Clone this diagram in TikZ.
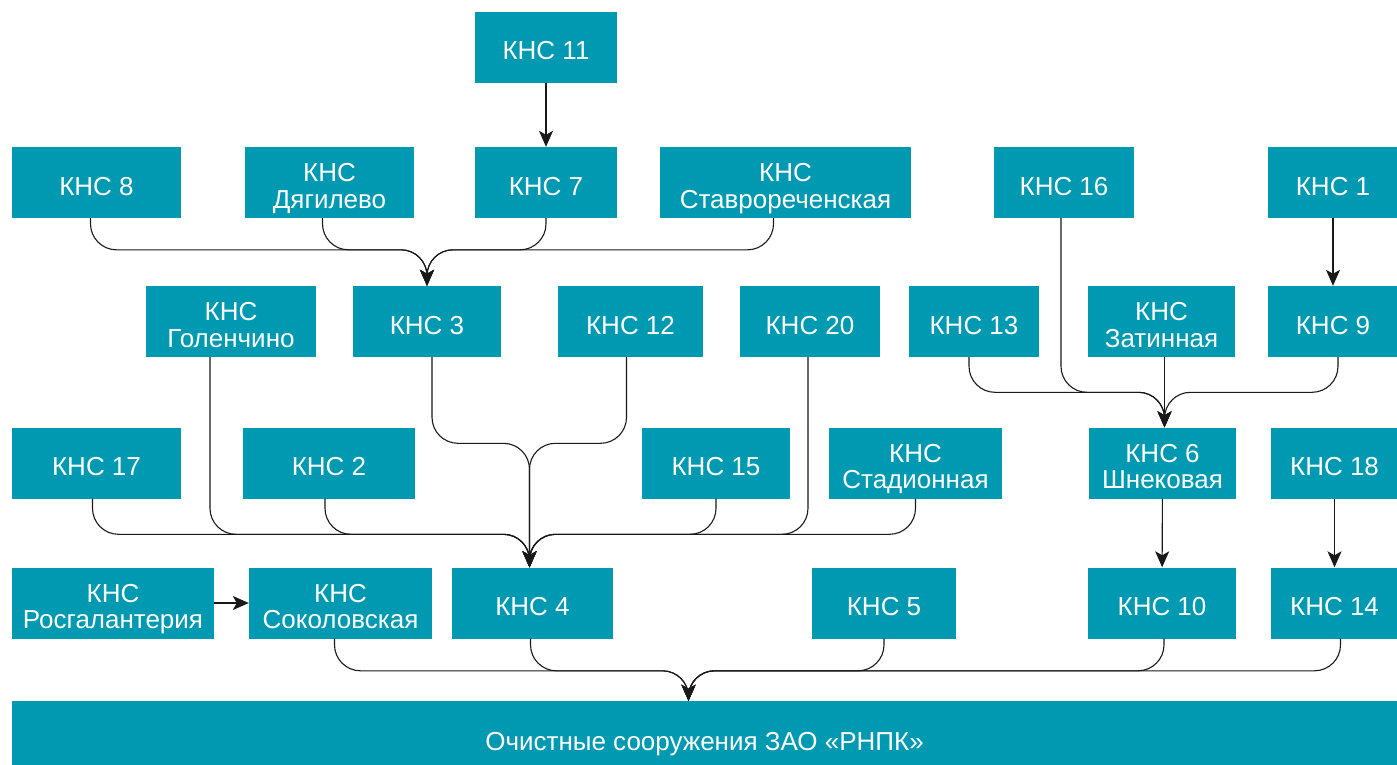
\documentclass[tikz,border=0pt]{standalone}
\usepackage{fontspec}
\setmainfont{Liberation Sans}
\usetikzlibrary{arrows.meta}
\definecolor{teal1}{RGB}{0,153,178}
\newcommand{\twoline}[2]{\begin{tabular}{@{}c@{}}\rule{0pt}{33pt}#1\\#2\end{tabular}}
\begin{document}
\begin{tikzpicture}[x=1pt,y=-1pt,
  base/.style={fill=teal1, text=white, inner sep=0pt, minimum height=71pt,
    font=\fontsize{26}{26.5}\selectfont},
  box/.style={base, execute at begin node={\rule{0pt}{25.5pt}}},
  box2/.style={base},
  conn/.style={draw=black!90, line width=1.1pt, rounded corners=26pt,
    -{Stealth[length=16pt,width=14pt,inset=4pt]}},
  straight/.style={draw=black!90, line width=1.1pt,
    -{Stealth[length=16pt,width=14pt,inset=4pt]}}]
\useasboundingbox (0,0) rectangle (1397,764);
% row 0
\node[box, minimum width=142pt] (k11) at (546,47) {КНС 11};
% row 1
\node[box, minimum width=169pt] (k8) at (96.5,182.5) {КНС 8};
\node[box2, minimum width=169pt] (dyag) at (329.5,182.5) {\twoline{КНС}{Дягилево}};
\node[box, minimum width=142pt] (k7) at (546,182.5) {КНС 7};
\node[box2, minimum width=251pt] (stav) at (785.5,182.5) {\twoline{КНС}{Ставрореченская}};
\node[box, minimum width=140pt] (k16) at (1064,182.5) {КНС 16};
\node[box, minimum width=130pt] (k1) at (1333,182.5) {КНС 1};
% row 2
\node[box2, minimum width=170pt] (gol) at (231,321.5) {\twoline{КНС}{Голенчино}};
\node[box, minimum width=148pt] (k3) at (427,321.5) {КНС 3};
\node[box, minimum width=145pt] (k12) at (630.5,321.5) {КНС 12};
\node[box, minimum width=140pt] (k20) at (810,321.5) {КНС 20};
\node[box, minimum width=130pt] (k13) at (974,321.5) {КНС 13};
\node[box2, minimum width=147pt] (zat) at (1161.5,321.5) {\twoline{КНС}{Затинная}};
\node[box, minimum width=130pt] (k9) at (1333,321.5) {КНС 9};
% row 3
\node[box, minimum width=169pt] (k17) at (96.5,463) {КНС 17};
\node[box, minimum width=172pt] (k2) at (329,463) {КНС 2};
\node[box, minimum width=148pt] (k15) at (716,463) {КНС 15};
\node[box2, minimum width=173pt] (stad) at (915.5,463) {\twoline{КНС}{Стадионная}};
\node[box2, minimum width=147pt] (k6) at (1162.5,463) {\twoline{КНС 6}{Шнековая}};
\node[box, minimum width=127pt] (k18) at (1334.5,463) {КНС 18};
% row 4
\node[box2, minimum width=202pt] (ros) at (113,603) {\twoline{КНС}{Росгалантерия}};
\node[box2, minimum width=183pt] (sok) at (340.5,603) {\twoline{КНС}{Соколовская}};
\node[box, minimum width=161pt] (k4) at (532.5,603) {КНС 4};
\node[box, minimum width=144pt] (k5) at (884,603) {КНС 5};
\node[box, minimum width=148pt] (k10) at (1162,603) {КНС 10};
\node[box, minimum width=127pt] (k14) at (1334.5,603) {КНС 14};
% bottom
\node[box, minimum width=1385pt, minimum height=78pt] (out) at (704.5,740) {Очистные сооружения ЗАО «РНПК»};
% bus coordinates
\path (k3.north) ++(0,-36) coordinate (b3);
\path (k6.north) ++(2,-35) coordinate (b6);
\path (k4.north) ++(-3,-33) coordinate (b4);
\path (k4.north) ++(-3,-124) coordinate (b4up);
\path (out.north) ++(-16,-30) coordinate (bo);
% straight arrows
\draw[straight] (k11) -- (k7);
\draw[straight] (k1) -- (k9);
\draw[straight] (k6) -- (k10);
\draw[straight] (k18) -- (k14);
\draw[straight] (ros) -- (sok);
% into KNS 3
\draw[conn] ([xshift=-6pt]k8.south) |- (b3) -- (k3.north);
\draw[conn] ([xshift=-7pt]dyag.south) |- (b3) -- (k3.north);
\draw[conn] (k7.south) |- (b3) -- (k3.north);
\draw[conn] ([xshift=-12pt]stav.south) |- (b3) -- (k3.north);
% into KNS 6
\draw[conn] ([xshift=-5pt]k13.south) |- (b6) -- (b6 |- k6.north);
\draw[conn] ([xshift=-3pt]k16.south) |- (b6) -- (b6 |- k6.north);
\draw[conn] (b6 |- zat.south) -- (b6 |- k6.north);
\draw[conn] ([xshift=5pt]k9.south) |- (b6) -- (b6 |- k6.north);
% into KNS 4
\draw[conn] ([xshift=5pt]k3.south) |- (b4up) -- (b4 |- k4.north);
\draw[conn] ([xshift=-4pt]k12.south) |- (b4up) -- (b4 |- k4.north);
\draw[conn] ([xshift=-4pt]k17.south) |- (b4) -- (b4 |- k4.north);
\draw[conn] ([xshift=-21pt]gol.south) |- (b4) -- (b4 |- k4.north);
\draw[conn] ([xshift=-4pt]k2.south) |- (b4) -- (b4 |- k4.north);
\draw[conn] (k15.south) |- (b4) -- (b4 |- k4.north);
\draw[conn] ([xshift=-2pt]k20.south) |- (b4) -- (b4 |- k4.north);
\draw[conn] (stad.south) |- (b4) -- (b4 |- k4.north);
% into output
\draw[conn] ([xshift=-6pt]sok.south) |- (bo) -- (bo |- out.north);
\draw[conn] ([xshift=-2pt]k4.south) |- (bo) -- (bo |- out.north);
\draw[conn] (k5.south) |- (bo) -- (bo |- out.north);
\draw[conn] ([xshift=2pt]k10.south) |- (bo) -- (bo |- out.north);
\draw[conn] ([xshift=6pt]k14.south) |- (bo) -- (bo |- out.north);
\end{tikzpicture}
\end{document}
